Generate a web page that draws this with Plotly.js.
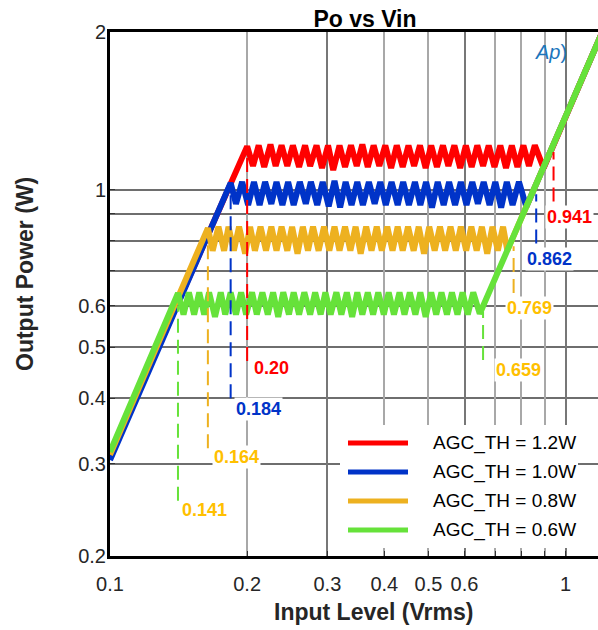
<!DOCTYPE html>
<html><head><meta charset="utf-8">
<script src="https://cdn.plot.ly/plotly-3.0.1.min.js"></script>
<style>html,body{margin:0;padding:0;background:#fff;overflow:hidden}</style>
</head><body><div id="chart" style="width:598px;height:630px"></div>
<script>
// ---------------- data ----------------
const seriesNames = ['AGC_TH = 1.2W', 'AGC_TH = 1.0W', 'AGC_TH = 0.8W', 'AGC_TH = 0.6W'];

const redV = [0.100, 0.200, 0.206, 0.212, 0.218, 0.225, 0.231, 0.238, 0.245, 0.252, 0.260, 0.268, 0.275, 0.284, 0.292, 0.301, 0.309, 0.319, 0.328, 0.338, 0.348, 0.358, 0.368, 0.379, 0.390, 0.402, 0.414, 0.426, 0.439, 0.452, 0.465, 0.479, 0.493, 0.507, 0.522, 0.538, 0.553, 0.570, 0.587, 0.604, 0.622, 0.640, 0.659, 0.678, 0.698, 0.719, 0.740, 0.762, 0.784, 0.808, 0.831, 0.856, 0.895, 1.210];
const redP = [0.31,
  1.21, 1.11, 1.215, 1.105, 1.22, 1.11, 1.215, 1.11, 1.215, 1.105,
  1.215, 1.11, 1.215, 1.10, 1.215, 1.09, 1.215, 1.105, 1.215, 1.11,
  1.22, 1.105, 1.215, 1.11, 1.215, 1.10, 1.215, 1.105, 1.215, 1.11,
  1.215, 1.10, 1.215, 1.105, 1.215, 1.11, 1.215, 1.10, 1.215, 1.105,
  1.215, 1.11, 1.215, 1.105, 1.215, 1.10, 1.215, 1.105, 1.215, 1.11,
  1.215, 1.10, 2.02];

const blueV = [0.100, 0.184, 0.189, 0.195, 0.201, 0.207, 0.213, 0.219, 0.226, 0.232, 0.239, 0.246, 0.253, 0.261, 0.269, 0.276, 0.285, 0.293, 0.302, 0.311, 0.320, 0.329, 0.339, 0.349, 0.359, 0.370, 0.381, 0.392, 0.403, 0.415, 0.428, 0.440, 0.453, 0.467, 0.480, 0.494, 0.509, 0.524, 0.540, 0.555, 0.572, 0.589, 0.606, 0.624, 0.642, 0.661, 0.681, 0.701, 0.722, 0.743, 0.765, 0.790, 0.820, 1.210];
const blueP = [0.305,
  1.03, 0.94, 1.035, 0.935, 1.035, 0.935, 1.035, 0.94, 1.035, 0.935,
  1.035, 0.935, 1.035, 0.94, 1.035, 0.935, 1.035, 0.93, 1.04, 0.925,
  1.035, 0.935, 1.035, 0.935, 1.035, 0.94, 1.035, 0.935, 1.035, 0.935,
  1.035, 0.935, 1.035, 0.935, 1.035, 0.925, 1.035, 0.935, 1.035, 0.935,
  1.035, 0.935, 1.035, 0.94, 1.035, 0.935, 1.035, 0.925, 1.035, 0.935,
  1.035, 0.928, 2.02];

const orangeV = [0.100, 0.164, 0.168, 0.173, 0.178, 0.182, 0.187, 0.192, 0.198, 0.203, 0.208, 0.214, 0.220, 0.226, 0.232, 0.238, 0.245, 0.251, 0.258, 0.265, 0.272, 0.279, 0.287, 0.295, 0.303, 0.311, 0.319, 0.328, 0.337, 0.346, 0.355, 0.365, 0.375, 0.385, 0.395, 0.406, 0.417, 0.428, 0.439, 0.451, 0.464, 0.476, 0.489, 0.502, 0.516, 0.530, 0.544, 0.559, 0.574, 0.589, 0.605, 0.621, 0.638, 0.655, 0.673, 0.691, 0.710, 0.729, 0.745, 1.210];
const orangeP = [0.312,
  0.845, 0.765, 0.85, 0.765, 0.85, 0.765, 0.85, 0.755, 0.85, 0.765,
  0.85, 0.765, 0.85, 0.765, 0.85, 0.765, 0.85, 0.755, 0.85, 0.765,
  0.85, 0.765, 0.85, 0.765, 0.85, 0.765, 0.85, 0.765, 0.85, 0.755,
  0.85, 0.765, 0.85, 0.765, 0.85, 0.765, 0.85, 0.765, 0.85, 0.765,
  0.85, 0.755, 0.85, 0.765, 0.85, 0.765, 0.85, 0.765, 0.85, 0.765,
  0.85, 0.765, 0.85, 0.755, 0.85, 0.765, 0.85, 0.766, 2.02];

const greenV = [0.100, 0.141, 0.145, 0.149, 0.153, 0.157, 0.161, 0.165, 0.170, 0.175, 0.179, 0.184, 0.189, 0.194, 0.199, 0.205, 0.210, 0.216, 0.222, 0.228, 0.234, 0.240, 0.247, 0.253, 0.260, 0.267, 0.275, 0.282, 0.290, 0.297, 0.305, 0.314, 0.322, 0.331, 0.340, 0.349, 0.358, 0.368, 0.378, 0.388, 0.399, 0.409, 0.420, 0.432, 0.443, 0.455, 0.468, 0.480, 0.493, 0.507, 0.520, 0.534, 0.549, 0.563, 0.579, 0.594, 0.610, 0.627, 0.648, 1.210];
const greenP = [0.316,
  0.635, 0.578, 0.637, 0.578, 0.637, 0.578, 0.637, 0.572, 0.637, 0.578,
  0.637, 0.578, 0.637, 0.578, 0.637, 0.578, 0.637, 0.578, 0.637, 0.572,
  0.637, 0.578, 0.637, 0.578, 0.637, 0.578, 0.637, 0.578, 0.637, 0.578,
  0.637, 0.578, 0.637, 0.572, 0.637, 0.578, 0.637, 0.578, 0.637, 0.578,
  0.637, 0.578, 0.637, 0.578, 0.637, 0.578, 0.637, 0.572, 0.637, 0.578,
  0.637, 0.578, 0.637, 0.578, 0.637, 0.578, 0.637, 0.58, 2.02];

// threshold markers (dashed verticals)
const markV      = [0.141, 0.164, 0.184, 0.20, 0.659, 0.769, 0.862, 0.941];
const markTop    = [0.60, 0.80, 1.00, 1.20, 0.585, 0.78, 0.98, 1.18];
const markBottom = [0.255, 0.321, 0.40, 0.471, 0.473, 0.635, 0.79, 0.95];
const markLabels = ['0.141', '0.164', '0.184', '0.20', '0.659', '0.769', '0.862', '0.941'];

const xTickVals = [0.1, 0.2, 0.3, 0.4, 0.5, 0.6, 0.7, 0.8, 0.9, 1];
const xTickText = ['0.1', '0.2', '0.3', '0.4', '0.5', '0.6', '', '', '', '1'];
const yTickVals = [0.2, 0.3, 0.4, 0.5, 0.6, 0.7, 0.8, 0.9, 1, 2];
const yTickText = ['0.2', '0.3', '0.4', '0.5', '0.6', '', '', '', '1', '2'];

// ---------------- styling ----------------
const W = 598, H = 630, ML = 110, MR = 0, MT = 32, MB = 74;
const C = {red: '#ff0000', blue: '#0033c8', orange: '#edb120', green: '#66e23a', gold: '#ffc000'};
const seriesColors = [C.red, C.blue, C.orange, C.green];
const markLineColors = [C.green, C.orange, C.blue, C.red, C.green, C.orange, C.blue, C.red];
const markTextColors = [C.gold, C.gold, C.blue, C.red, C.gold, C.gold, C.blue, C.red];
const labelShift = [[2, -9], [4, -9], [3, -11], [5, -7], [11, -10], [-9, -15], [-11, -16], [-9, -16]];
const FONT = 'Arial, "Liberation Sans", sans-serif';

const seriesV = [redV, blueV, orangeV, greenV];
const seriesP = [redP, blueP, orangeP, greenP];

const traces = [];
seriesV.forEach((v, i) => {
  traces.push({
    x: v, y: seriesP[i], type: 'scatter', mode: 'lines', name: seriesNames[i],
    line: {color: seriesColors[i], width: 6, shape: 'linear'},
    showlegend: false, hoverinfo: 'skip'
  });
});
markV.forEach((v, i) => {
  traces.push({
    x: [v, v], y: [markBottom[i], markTop[i]], type: 'scatter', mode: 'lines',
    line: {color: markLineColors[i], width: 2, dash: '14px,7px'},
    showlegend: false, hoverinfo: 'skip'
  });
});
// empty traces so the overlay grid axes exist
traces.push({x: [], y: [], xaxis: 'x2', showlegend: false});
traces.push({x: [], y: [], xaxis: 'x3', showlegend: false});

const xRange = [-1, Math.log10(1.178)];
const yRange = [Math.log10(0.2), Math.log10(2)];

const pw = W - ML - MR, ph = H - MT - MB;
const pxX = px => (px - ML) / pw;
const pxY = py => (H - MB - py) / ph;

const annotations = [];
const shapes = [];

markLabels.forEach((t, i) => {
  annotations.push({
    x: Math.log10(markV[i]), y: Math.log10(markBottom[i]), xref: 'x', yref: 'y',
    text: t, showarrow: false, xanchor: 'left', yanchor: 'middle',
    xshift: labelShift[i][0], yshift: labelShift[i][1],
    bgcolor: '#ffffff', borderpad: 1,
    font: {family: FONT, size: 18, color: markTextColors[i], weight: 'bold'}
  });
});

// custom legend
shapes.push({type: 'rect', xref: 'paper', yref: 'paper', x0: pxX(340), x1: pxX(578), y0: pxY(548), y1: pxY(425),
  fillcolor: '#ffffff', line: {width: 0}, layer: 'above'});
seriesNames.forEach((n, i) => {
  const py = 443 + i * 29;
  shapes.push({type: 'line', xref: 'paper', yref: 'paper', x0: pxX(348), x1: pxX(408), y0: pxY(py), y1: pxY(py),
    line: {color: seriesColors[i], width: 5}, layer: 'above'});
  annotations.push({xref: 'paper', yref: 'paper', x: pxX(431), y: pxY(py), text: n, showarrow: false,
    xanchor: 'left', yanchor: 'middle', font: {family: FONT, size: 19, color: '#000'}});
});

// axis titles
annotations.push({xref: 'paper', yref: 'paper', x: pxX(373), y: pxY(612), text: 'Input Level (Vrms)', showarrow: false,
  xanchor: 'center', yanchor: 'middle', font: {family: FONT, size: 23, color: '#262626', weight: 'bold'}});
annotations.push({xref: 'paper', yref: 'paper', x: pxX(25), y: pxY(274), text: 'Output Power (W)', showarrow: false,
  textangle: -90, xanchor: 'center', yanchor: 'middle', font: {family: FONT, size: 23, color: '#262626', weight: 'bold'}});

// logo
annotations.push({xref: 'paper', yref: 'paper', x: pxX(551), y: pxY(52), text: '<i>Ap</i>)', showarrow: false,
  xanchor: 'center', yanchor: 'middle', font: {family: FONT, size: 20, color: '#1b75bc'}});

const tickFont = {family: FONT, size: 20, color: '#262626'};

const layout = {
  width: W, height: H,
  margin: {l: ML, r: MR, t: MT, b: MB, pad: 0},
  paper_bgcolor: '#fff', plot_bgcolor: '#fff',
  showlegend: false,
  title: {text: 'Po vs Vin', font: {family: FONT, size: 23, color: '#000', weight: 'bold'},
    xref: 'paper', x: pxX(365), xanchor: 'center', yref: 'container', y: 1 - 19 / H, yanchor: 'middle'},
  xaxis: {type: 'log', range: xRange, tickmode: 'array', tickvals: xTickVals, ticktext: xTickText,
    showgrid: false, zeroline: false, showline: true, linecolor: '#000', linewidth: 3, mirror: true,
    ticks: 'inside', ticklen: 5, tickwidth: 1, tickcolor: '#333', tickfont: tickFont, ticklabelstandoff: 8},
  xaxis2: {type: 'log', range: xRange, overlaying: 'x', anchor: 'y', tickmode: 'array',
    tickvals: [0.2, 0.4, 0.5, 0.7, 0.8, 0.9], showticklabels: false, ticks: '', showline: false,
    showgrid: true, gridcolor: '#a8a8a8', gridwidth: 2, zeroline: false},
  xaxis3: {type: 'log', range: xRange, overlaying: 'x', anchor: 'y', tickmode: 'array',
    tickvals: [0.3, 0.6, 1], showticklabels: false, ticks: '', showline: false,
    showgrid: true, gridcolor: '#777777', gridwidth: 2, zeroline: false},
  yaxis: {type: 'log', range: yRange, tickmode: 'array', tickvals: yTickVals, ticktext: yTickText,
    showgrid: true, gridcolor: '#6e6e6e', gridwidth: 2, zeroline: false,
    showline: true, linecolor: '#000', linewidth: 3, mirror: false,
    ticks: 'inside', ticklen: 5, tickwidth: 1, tickcolor: '#333', tickfont: tickFont, ticklabelstandoff: -3},
  annotations: annotations,
  shapes: shapes
};

Plotly.newPlot('chart', traces, layout, {displayModeBar: false, staticPlot: true});
</script>
</body></html>
